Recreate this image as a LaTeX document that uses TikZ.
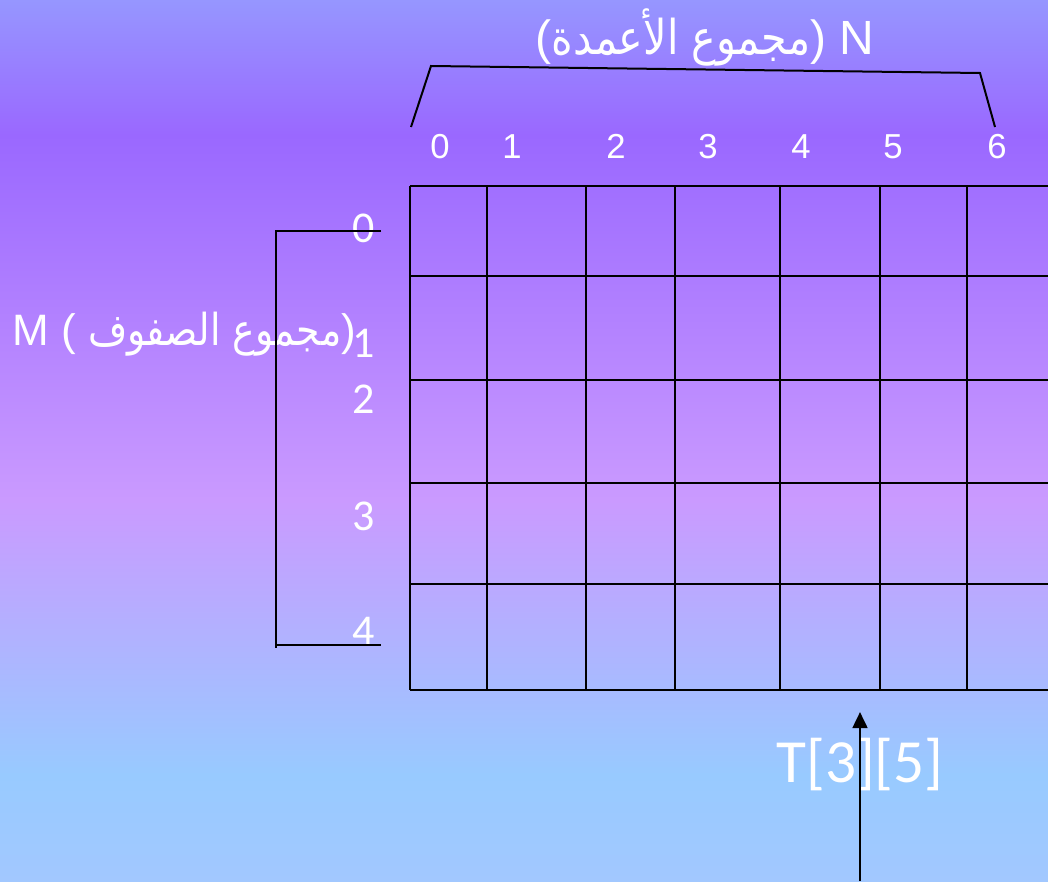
\documentclass[tikz,border=0pt]{standalone}
\usepackage{fontspec}
\setmainfont{Liberation Sans}
\newfontfamily\calibrifont{Carlito}
\newfontfamily\arabicfont[Script=Arabic]{DejaVu Sans}
\TeXXeTstate=1
\usetikzlibrary{arrows.meta,positioning}
\definecolor{bgtop}{RGB}{150,150,255}
\definecolor{bgpurple}{RGB}{154,104,255}
\definecolor{bgpink}{RGB}{202,154,255}
\definecolor{bgblue}{RGB}{152,202,255}
\definecolor{bgbottom}{RGB}{162,200,255}
\newcommand{\arabtext}[1]{\scalebox{0.86}[1]{\arabicfont\beginR #1\endR}}

\begin{document}
\begin{tikzpicture}[x=0.75pt, y=-0.75pt,
  every node/.style={text=white, inner sep=0pt},
  gridline/.style={line width=2.1pt, black},
  braceline/.style={line width=1.5pt, black},
  colnum/.style={font=\fontsize{26}{26}\selectfont, anchor=base},
  rownum/.style={font=\calibrifont\fontsize{33}{33}\selectfont, anchor=base}]
\useasboundingbox (0,0) rectangle (1048,881);
% background
\shade[top color=bgtop, bottom color=bgpurple] (0,0) rectangle (1048,135);
\shade[top color=bgpurple, bottom color=bgpink] (0,135) rectangle (1048,500);
\shade[top color=bgpink, bottom color=bgblue] (0,500) rectangle (1048,775);
\shade[top color=bgblue, bottom color=bgbottom] (0,775) rectangle (1048,881);

% the array
\foreach \x in {410,487,586,675,780,880,967}
  \draw[gridline] (\x,186) -- (\x,690);
\foreach \y in {186,276,380,483,584,690}
  \draw[gridline] (410,\y) -- (1048,\y);

% indices
\foreach \i/\x in {0/440,1/512,2/616,3/708,4/801,5/893,6/997}
  \node[colnum] (col\i) at (\x,158) {\i};
\foreach \i/\y in {0/242,1/357,2/413,3/530,4/645}
  \node[rownum] (row\i) at (364,\y) {\i};

% labels
\node[font=\fontsize{36}{36}\selectfont, anchor=base] (ncols) at (705,55)
  {(\arabtext{مجموع الأعمدة}) N};
\node[font=\fontsize{33}{33}\selectfont, anchor=base west] (mrows) at (12,345)
  {M ( \arabtext{مجموع الصفوف})};
\node[font=\calibrifont\fontsize{46}{46}\selectfont, anchor=base] (cell) at (860,782) {T[3][5]};

% brackets
\coordinate (nl) at (411,127);
\coordinate (nlt) at (431,66);
\coordinate (nrt) at (980,73);
\coordinate (nr) at (995,127);
\draw[braceline] (nl) -- (nlt) -- (nrt) -- (nr);
\coordinate (mt) at (381,231);
\coordinate (mtl) at (276,231);
\coordinate (mbl) at (276,648);
\coordinate (mb) at (381,645);
\draw[braceline] (mt) -- (mtl) -- (mbl);
\draw[braceline] (276,645) -- (mb);

% pointer to the cell
\coordinate (foot) at (860,881);
\coordinate (tip) at (860,712);
\draw[line width=2pt, -{Triangle[length=12pt, width=11pt]}] (foot) -- (tip);
\end{tikzpicture}
\end{document}
